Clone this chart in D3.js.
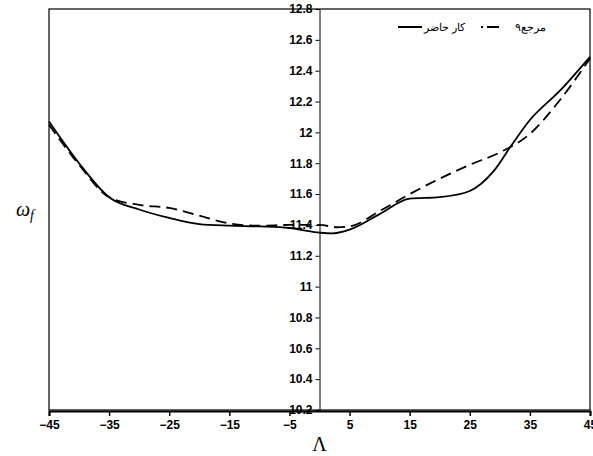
<!DOCTYPE html>
<html>
<head>
<meta charset="utf-8">
<style>
  html, body { margin: 0; padding: 0; background: #fff; }
  svg text { font-family: "Liberation Sans", Arial, sans-serif; }
</style>
</head>
<body>
<svg id="svg" width="593" height="456"></svg>
<script src="https://d3js.org/d3.v7.min.js"></script>
<script>
// values
const lambdaPresent = [-45, -40, -35, -30, -25, -20, -15, -10, -5, 0, 2, 5, 10, 15, 20, 25, 29, 32, 35, 40, 45]
const omegaPresent  = [12.07, 11.80, 11.58, 11.50, 11.445, 11.405, 11.395, 11.39, 11.38, 11.35, 11.345, 11.37, 11.47, 11.57, 11.58, 11.62, 11.75, 11.92, 12.08, 12.27, 12.49]

const lambdaRef9 = [-45, -40, -35, -30, -25, -20, -15, -10, -5, 0, 3, 5, 10, 15, 20, 25, 30, 35, 40, 45]
const omegaRef9  = [12.05, 11.79, 11.58, 11.53, 11.51, 11.46, 11.41, 11.395, 11.40, 11.40, 11.385, 11.39, 11.49, 11.60, 11.70, 11.79, 11.87, 11.99, 12.21, 12.48]

const xTicks = [-45, -35, -25, -15, -5, 5, 15, 25, 35, 45]
const yTicks = [10.2, 10.4, 10.6, 10.8, 11, 11.2, 11.4, 11.6, 11.8, 12, 12.2, 12.4, 12.6, 12.8]

const legendNames = ['کار حاضر', 'مرجع۹']

const margin = { top: 9, right: 3, bottom: 46, left: 49 }
const width = 593 - margin.left - margin.right
const height = 456 - margin.top - margin.bottom

const svg = d3.select('#svg')
const g = svg.append('g').attr('transform', `translate(${margin.left}, ${margin.top})`)

const xscale = d3.scaleLinear().domain([-45, 45]).range([0, width])
const yscale = d3.scaleLinear().domain([10.2, 12.8]).range([height, 0])

// frame
g.append('rect')
  .attr('x', 0).attr('y', 0)
  .attr('width', width).attr('height', height)
  .attr('fill', 'none').attr('stroke', '#000').attr('stroke-width', 1.2)

// bottom axis
const bottomAxis = d3.axisBottom(xscale).tickValues(xTicks).tickSize(5).tickPadding(4).tickFormat(d3.format('d'))
const bx = g.append('g')
  .attr('transform', `translate(0, ${height + 1})`)
  .call(bottomAxis)
bx.select('.domain').attr('stroke-width', 2)
bx.selectAll('.tick line').attr('stroke-width', 1.5)
bx.selectAll('text').attr('font-size', 12).attr('font-weight', 'bold').attr('fill', '#000')

// vertical axis at lambda = 0
const leftAxis = d3.axisLeft(yscale).tickValues(yTicks).tickSize(4).tickPadding(3).tickSizeOuter(0).tickFormat(d => d3.format('~g')(d))
const ly = g.append('g')
  .attr('transform', `translate(${xscale(0)}, 0)`)
  .call(leftAxis)
ly.selectAll('text').attr('font-size', 12).attr('font-weight', 'bold').attr('fill', '#000')

// lines
const line = d3.line()
  .x(d => xscale(d[0]))
  .y(d => yscale(d[1]))
  .curve(d3.curveMonotoneX)

g.append('path')
  .datum(lambdaRef9.map((l, i) => [l, omegaRef9[i]]))
  .attr('d', line)
  .attr('fill', 'none').attr('stroke', '#000').attr('stroke-width', 1.8)
  .attr('stroke-dasharray', '11,6')

g.append('path')
  .datum(lambdaPresent.map((l, i) => [l, omegaPresent[i]]))
  .attr('d', line)
  .attr('fill', 'none').attr('stroke', '#000').attr('stroke-width', 1.8)

// legend (right to left)
const leg = svg.append('g')
leg.append('line').attr('x1', 398).attr('x2', 422).attr('y1', 27).attr('y2', 27)
  .attr('stroke', '#000').attr('stroke-width', 2)
leg.append('text').attr('x', 465).attr('y', 31).attr('text-anchor', 'end')
  .attr('font-family', '"DejaVu Sans", sans-serif').attr('font-size', 11).text(legendNames[0])
leg.append('line').attr('x1', 481).attr('x2', 499).attr('y1', 27).attr('y2', 27)
  .attr('stroke', '#000').attr('stroke-width', 2).attr('stroke-dasharray', '2,4,12,0')
leg.append('text').attr('x', 546).attr('y', 31).attr('text-anchor', 'end')
  .attr('font-family', '"DejaVu Sans", sans-serif').attr('font-size', 11).text(legendNames[1])

// axis titles
svg.append('text').attr('x', 25).attr('y', 216).attr('text-anchor', 'middle')
  .style('font-family', '"Liberation Serif", "DejaVu Serif", serif').style('font-style', 'italic')
  .attr('font-size', 20).text('ω')
  .append('tspan').attr('font-size', 14).attr('dy', 4).text('f')
svg.append('text').attr('x', xscale(0) + margin.left).attr('y', 451).attr('text-anchor', 'middle')
  .style('font-family', '"Liberation Serif", "DejaVu Serif", serif')
  .attr('font-size', 20).text('Λ')
</script>
</body>
</html>
